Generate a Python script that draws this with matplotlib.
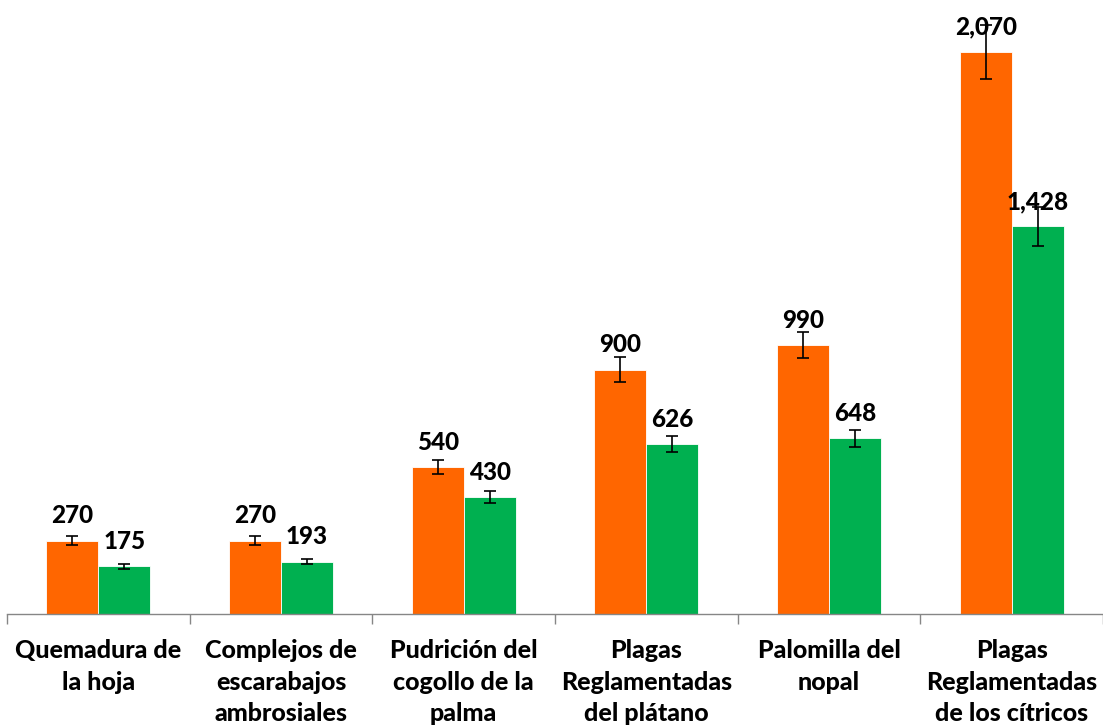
import matplotlib
matplotlib.use("Agg")
import matplotlib.pyplot as plt
import numpy as np

categories = ["Quemadura de\nla hoja", "Complejos de\nescarabajos\nambrosiales",
              "Pudrición del\ncogollo de la\npalma", "Plagas\nReglamentadas\ndel plátano",
              "Palomilla del\nnopal", "Plagas\nReglamentadas\nde los cítricos"]
serie_a = [270, 270, 540, 900, 990, 2070]
serie_b = [175, 193, 430, 626, 648, 1428]
err_a = [16, 16, 26, 46, 48, 100]
err_b = [11, 10, 22, 30, 31, 72]

plt.rcParams['font.family'] = ['Lato', 'DejaVu Sans']

fig = plt.figure(figsize=(11.03, 7.25), dpi=100)
ax = fig.add_axes([7/1103, 111/725, 1 - 7/1103, 614/725])

x = np.arange(len(categories)) + 0.5
w = 0.285
orange = "#FF6600"
green = "#00B050"
ax.bar(x - w/2, serie_a, w, color=orange, edgecolor="white", linewidth=0.6,
       yerr=err_a, error_kw=dict(ecolor="black", elinewidth=1.2, capsize=4, capthick=1.2))
ax.bar(x + w/2, serie_b, w, color=green, edgecolor="white", linewidth=0.6,
       yerr=err_b, error_kw=dict(ecolor="black", elinewidth=1.2, capsize=4, capthick=1.2))

for xi, v in zip(x - w/2, serie_a):
    ax.annotate(f"{v:,}", (xi, v), xytext=(0, 18), textcoords="offset points",
                ha="center", va="center", fontsize=17.5, fontweight="black")
for xi, v in zip(x + w/2, serie_b):
    ax.annotate(f"{v:,}", (xi, v), xytext=(0, 18), textcoords="offset points",
                ha="center", va="center", fontsize=17.5, fontweight="black")

for xi, c in zip(x, categories):
    ax.annotate(c, (xi, 0), xycoords=("data", "axes fraction"), xytext=(0, -18),
                textcoords="offset points", ha="center", va="top", fontsize=18,
                fontweight="black", linespacing=1.45)

ax.set_xlim(0, len(categories))
ax.set_ylim(0, 2262)
ax.set_xticks(np.arange(len(categories) + 1))
ax.set_xticklabels([])
ax.set_yticks([])
for s in ["top", "right", "left"]:
    ax.spines[s].set_visible(False)
ax.spines["bottom"].set_color("#868686")
ax.spines["bottom"].set_linewidth(1.0)
ax.tick_params(axis="x", direction="out", length=7, color="#868686", width=1.0)
ax.patch.set_alpha(0)

fig.savefig("out.png", dpi=100)
